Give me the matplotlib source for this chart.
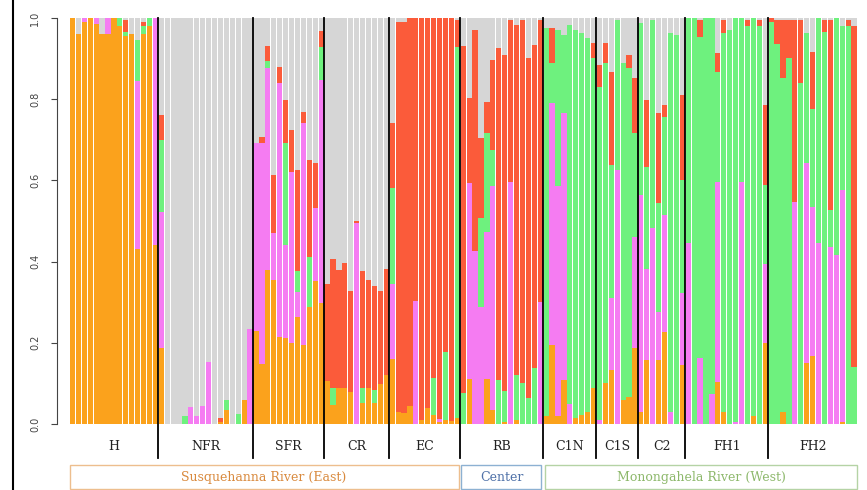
import numpy as np
import matplotlib.pyplot as plt
from matplotlib.patches import Rectangle

# membership per individual: [orange, pink, green, red]; grey = rest
H = [[1.0, 0, 0, 0], [.96, 0, 0, 0], [.99, .01, 0, 0], [1.0, 0, 0, 0], [.985, .015, 0, 0],
     [.96, 0, 0, 0], [.96, .04, 0, 0], [1.0, 0, 0, 0], [.98, 0, .02, 0], [.955, 0, .01, .03],
     [.96, 0, 0, 0], [.43, .415, .10, 0], [.96, 0, .02, .01], [.98, 0, .02, 0], [.44, .56, 0, 0]]
NFR = [[.187, .336, .177, .06], [0, 0, 0, 0], [0, 0, 0, 0], [0, 0, 0, 0], [0, 0, .02, 0],
       [0, .043, 0, 0], [0, .02, 0, 0], [0, .045, 0, 0], [0, .153, 0, 0], [0, 0, 0, 0],
       [.005, 0, 0, .01], [.035, 0, .023, 0], [0, 0, 0, 0], [0, 0, .025, 0], [.06, 0, 0, 0],
       [0, .235, 0, 0]]
SFR = [[.229, .462, 0, 0], [.147, .544, 0, .017], [.379, .497, .018, .038], [.355, .115, 0, .143],
       [.215, .624, 0, .041], [.211, .23, .25, .107], [.199, .422, 0, .103], [.264, .062, .051, .249],
       [.195, .546, 0, .027], [.287, 0, .125, .238], [.351, .18, 0, .111], [.297, .55, .082, .039]]
CR = [[.106, 0, 0, .238], [.047, 0, .042, .317], [.089, 0, 0, .29], [.088, 0, 0, .308],
      [.08, 0, 0, .248], [0, .494, 0, .007], [.051, 0, .037, .289], [.088, 0, 0, .267],
      [.051, 0, .033, .256], [.098, 0, 0, .23], [.121, 0, 0, .262]]
EC = [[.16, .184, .238, .159], [.03, 0, 0, .961], [.026, 0, 0, .963], [.045, 0, 0, .955],
      [0, .303, 0, .697], [.01, 0, 0, .99], [.039, 0, 0, .961], [.022, 0, .092, .886],
      [.005, .008, 0, .987], [.01, 0, .168, .822], [.008, 0, 0, .992], [.014, 0, .915, .065]]
RB = [[0, 0, .076, .854], [.112, .481, 0, .209], [0, .426, 0, .544], [0, .289, .218, .198],
      [.112, .362, .242, .076], [.034, .551, .09, .222], [0, 0, .108, .817], [.005, 0, .076, .829],
      [0, .597, 0, .398], [.01, 0, .111, .862], [0, 0, .10, .895], [0, 0, .063, .838],
      [0, 0, .137, .797], [0, .301, 0, .694]]
C1N = [[.02, 0, .955, 0], [.195, .595, .10, .085], [.02, .565, .385, 0], [.108, .657, .193, 0],
       [0, .05, .933, 0], [.014, 0, .956, 0], [.022, 0, .94, 0], [.03, 0, .92, 0],
       [.088, 0, .813, .037]]
C1S = [[0, .01, .821, .053], [.10, 0, .788, .05], [.133, .177, .328, .23], [0, .626, .369, 0],
       [.059, 0, .829, 0], [.067, 0, .809, .033], [.186, .275, .255, .135]]
C2 = [[.03, .534, .423, 0], [.158, .225, .251, .164], [0, .482, .513, 0], [.158, .119, .267, .221],
      [.227, .288, .242, .029], [0, .03, .932, 0], [0, 0, .958, 0], [.145, .177, .279, .209]]
FH1 = [[0, .445, .555, 0], [0, 0, 1.0, 0], [0, .162, .792, .041], [0, 0, 1.0, 0], [0, .075, .925, 0],
       [.104, .493, .271, .045], [.03, 0, .933, .032], [0, 0, .97, 0], [0, .005, .995, 0],
       [0, .597, .403, 0], [0, 0, .98, .015], [.02, 0, .98, 0], [0, 0, .98, .015],
       [.20, .195, .193, .198]]
FH2 = [[0, 0, .99, .01], [0, 0, .935, .06], [.03, 0, .821, .144], [0, 0, .902, .093],
       [0, .548, 0, .447], [0, 0, .839, .156], [.15, .492, .32, 0], [.167, .368, .242, .14],
       [0, .445, .555, 0], [0, 0, .966, .029], [0, .437, .09, .468], [0, .416, .584, 0],
       [.005, .571, .404, 0], [0, 0, .98, .015], [0, 0, .141, .839]]

group_names = ['H', 'NFR', 'SFR', 'CR', 'EC', 'RB', 'C1N', 'C1S', 'C2', 'FH1', 'FH2']
groups = [H, NFR, SFR, CR, EC, RB, C1N, C1S, C2, FH1, FH2]
regions = ['Susquehanna River (East)', 'Center', 'Monongahela River (West)']
region_groups = [5, 1, 5]

cols = ['#FBA21C', '#F57CF2', '#6EF17E', '#FB5B3A', '#D6D6D6']
reg_text = ['#D98A3E', '#4F71A8', '#8DB86B']
reg_edge = ['#EDBE8E', '#8DB1D2', '#B5D3A5']

q = np.vstack([np.array(g, dtype=float) for g in groups])
q = np.column_stack([q, np.clip(1 - q.sum(axis=1), 0, None)])
n = len(q)
x = np.arange(n) + 0.5

fig = plt.figure(figsize=(8.67, 4.90), dpi=100)
ax = fig.add_axes([69.5 / 867, 1 - 424 / 490, (857 - 69.5) / 867, 406 / 490])

bottom = np.zeros(n)
for k in range(5):
    ax.bar(x, q[:, k], bottom=bottom, width=0.88, color=cols[k], linewidth=0)
    bottom += q[:, k]

ax.set_xlim(0, n)
ax.set_ylim(0, 1)
for s in ['top', 'right', 'bottom']:
    ax.spines[s].set_visible(False)
ax.spines['left'].set_position(('outward', 9))
ax.spines['left'].set_color('#444444')
ax.spines['left'].set_linewidth(0.8)
ax.set_xticks([])
ax.set_yticks([0, .2, .4, .6, .8, 1.0])
ax.set_yticklabels(['0.0', '0.2', '0.4', '0.6', '0.8', '1.0'], rotation=90, va='center')
ax.tick_params(axis='y', length=4, width=0.8, labelsize=7, colors='#444444', pad=8)

sizes = [len(g) for g in groups]
edges = np.concatenate([[0], np.cumsum(sizes)])
for b in edges[1:-1]:
    ax.plot([b, b], [1.0, -0.084], color='black', lw=1.3, clip_on=False)
for i, name in enumerate(group_names):
    ax.text((edges[i] + edges[i + 1]) / 2, -0.055, name, ha='center', va='center',
            fontsize=9, family='DejaVu Serif', color='#222222')

# region boxes under the group labels
reg_edges = edges[np.concatenate([[0], np.cumsum(region_groups)])]
pad = [(0, 0.3), (0.2, 0.3), (0.3, 0)]
for i, name in enumerate(regions):
    x0 = reg_edges[i] + pad[i][0]
    x1 = reg_edges[i + 1] - pad[i][1]
    ax.add_patch(Rectangle((x0, -0.16), x1 - x0, 0.059, fill=False, edgecolor=reg_edge[i],
                           lw=1.0, clip_on=False))
    ax.text((x0 + x1) / 2, -0.131, name, ha='center', va='center', fontsize=9,
            family='DejaVu Serif', color=reg_text[i])

fig.add_artist(plt.Line2D([12.5 / 867, 12.5 / 867], [0, 1], color='black', lw=1.5))

fig.savefig('out.png', dpi=100)
